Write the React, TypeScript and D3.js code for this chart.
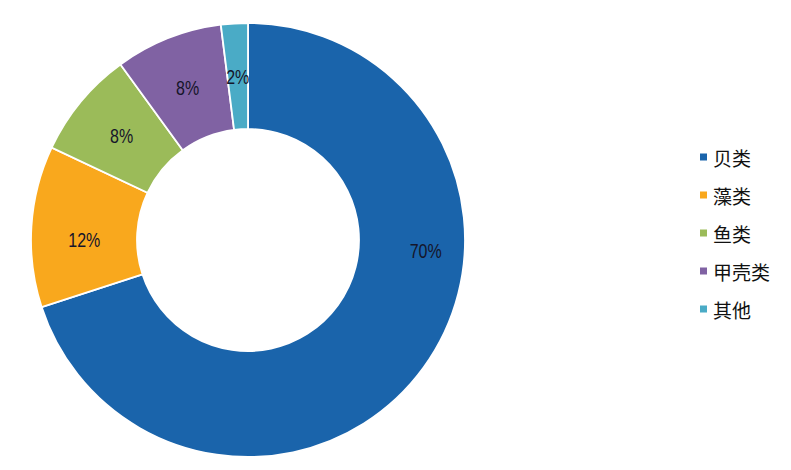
import React from "react";
import * as d3 from "d3";

const categories = ["贝类", "藻类", "鱼类", "甲壳类", "其他"];
const values = [70, 12, 8, 8, 2];
const labels = ["70%", "12%", "8%", "8%", "2%"];
const colors = ["#1a64ab", "#f9a81d", "#9bbb59", "#8062a3", "#4aabc6"];

const W = 791;
const H = 470;
const cx = 248;
const cy = 240;
const outerR = 217;
const innerR = 111;

export default function App() {
  const pie = d3.pie<number>().sort(null).value((d) => d)(values);
  const arc = d3.arc<d3.PieArcDatum<number>>().innerRadius(innerR).outerRadius(outerR);
  const legendY = d3.scalePoint<string>().domain(categories).range([157, 309]);

  return (
    <div style={{ position: "absolute", left: 0, top: 0 }}>
      <svg width={W} height={H} style={{ display: "block", background: "#fff" }}>
        <g transform={`translate(${cx},${cy})`}>
          {pie.map((p, i) => (
            <path key={i} d={arc(p) || ""} fill={colors[i]} stroke="#fff" strokeWidth={1.8} />
          ))}
          {pie.map((p, i) => {
            let [x, y] = arc.centroid(p);
            if (i === 0) {
              const a = Math.PI / 2 + 0.056;
              const r = 178;
              x = Math.sin(a) * r;
              y = -Math.cos(a) * r;
            }
            if (i === 1) y += 10;
            return (
              <text
                key={i}
                transform={`translate(${x},${y + 1}) scale(0.8,1)`}
                textAnchor="middle"
                dominantBaseline="central"
                fontFamily="Liberation Sans, Arial, sans-serif"
                fontSize={20}
                fill="#15152a"
              >
                {labels[i]}
              </text>
            );
          })}
        </g>
        {categories.map((c, i) => (
          <g key={c} transform={`translate(0,${legendY(c)})`}>
            <rect x={700} y={-3.5} width={7} height={7} fill={colors[i]} />
            <text
              x={713}
              y={0}
              dominantBaseline="central"
              fontFamily="Noto Sans CJK SC, sans-serif"
              fontSize={19}
              fill="#111"
            >
              {c}
            </text>
          </g>
        ))}
      </svg>
    </div>
  );
}
